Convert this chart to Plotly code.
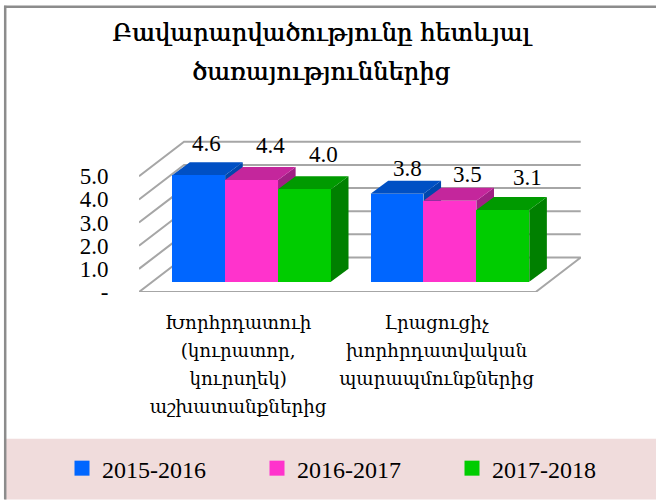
import plotly.graph_objects as go

# ---- data ----
categories = ["Խորհրդատուի<br>(կուրատոր,<br>կուրսղեկ)<br>աշխատանքներից",
              "Լրացուցիչ<br>խորհրդատվական<br>պարապմունքներից"]
series_names = ["2015-2016", "2016-2017", "2017-2018"]
values_2015 = [4.6, 3.8]
values_2016 = [4.4, 3.5]
values_2017 = [4.0, 3.1]
y_ticks = [0, 1, 2, 3, 4, 5]
y_tick_labels = ["-", "1.0", "2.0", "3.0", "4.0", "5.0"]
title_lines = ["Բավարարվածությունը հետևյալ", "ծառայություններից"]

# ---- style ----
front_colors = ["#0066FF", "#FF33CC", "#00CC00"]
top_colors = ["#0050C4", "#C4269C", "#009A00"]
side_colors = ["#0047AD", "#A02084", "#008000"]
GRID = "#A6A6A6"
ARM = "DejaVu Serif"
NUM = "Liberation Serif"

W, H = 656, 500
L, R, T, B = 139.0, 581.0, 129.6, 292.0  # plot area in px
x_range = [-0.5, -0.5 + (R - L) / 198.35]
y_range = [0, 7]
WALL_X, WALL_Y = 0.227, 1.49     # depth of floor
BAR_X, BAR_Y = 0.0676, 0.444     # position of the bars' front face in depth
DEPTH_X, DEPTH_Y = 0.0887, 0.56  # depth of a bar
BAR_W = 0.8 / 3

def px(x): return (x - L) / (R - L)
def py(y): return (B - y) / (B - T)

all_values = [values_2015, values_2016, values_2017]
fig = go.Figure()

# grid walls and floor
x_left = x_range[0]
x_front_right = x_left + 2
for k in y_ticks:
    if k == 0:
        xs = [x_front_right, x_left, x_left + WALL_X, x_front_right + WALL_X, x_front_right]
        ys = [0, 0, WALL_Y, WALL_Y, 0]
    else:
        xs = [x_left, x_left + WALL_X, x_front_right + WALL_X]
        ys = [k, k + WALL_Y, k + WALL_Y]
    fig.add_trace(go.Scatter(x=xs, y=ys, mode="lines", line=dict(color=GRID, width=2),
                             showlegend=False, hoverinfo="skip", cliponaxis=False))

def poly(xs, ys, color):
    fig.add_trace(go.Scatter(x=xs, y=ys, mode="lines", fill="toself", fillcolor=color,
                             line=dict(width=0, color=color), showlegend=False,
                             hoverinfo="skip", cliponaxis=False))

# depth faces, all under the front faces
for g in range(len(categories)):
    for s, vals in enumerate(all_values):
        x0 = g + BAR_X + (s - 1.5) * BAR_W
        x1 = x0 + BAR_W
        y0 = BAR_Y
        y1 = BAR_Y + vals[g]
        poly([x1, x1 + DEPTH_X, x1 + DEPTH_X, x1, x1],
             [y0, y0 + DEPTH_Y, y1 + DEPTH_Y, y1, y0], side_colors[s])
        poly([x0, x0 + DEPTH_X, x1 + DEPTH_X, x1, x0],
             [y1, y1 + DEPTH_Y, y1 + DEPTH_Y, y1, y1], top_colors[s])

# front faces
for s, vals in enumerate(all_values):
    fig.add_trace(go.Bar(x=[g + BAR_X + (s - 1) * BAR_W for g in range(len(categories))],
                         y=vals, base=BAR_Y, width=BAR_W, marker=dict(color=front_colors[s], line=dict(width=0)),
                         xaxis="x2", yaxis="y2", showlegend=False, name=series_names[s]))

# legend entries
for s, name in enumerate(series_names):
    fig.add_trace(go.Scatter(x=[None], y=[None], mode="markers", name=name,
                             marker=dict(symbol="square", size=15, color=front_colors[s])))

# value labels (offset from the top of each bar)
label_dx = [[8, 10], [19, 18], [19, 25]]
label_dy = [[32, 25], [34, 26], [35, 32]]
ann = []
for s, vals in enumerate(all_values):
    for g, v in enumerate(vals):
        ann.append(dict(x=g + BAR_X + (s - 1) * BAR_W, y=BAR_Y + v, text=f"{v:.1f}", showarrow=False,
                        xref="x", yref="y", xanchor="center", yanchor="middle",
                        xshift=label_dx[s][g], yshift=label_dy[s][g],
                        font=dict(family=NUM, size=23, color="black")))

shapes = [
    dict(type="rect", xref="paper", yref="paper", x0=px(5), x1=px(656), y0=py(439), y1=py(500),
         fillcolor="#F0DCDC", line=dict(width=0), layer="below"),
    dict(type="line", xref="paper", yref="paper", x0=px(4), x1=px(656), y0=py(6), y1=py(6),
         line=dict(color="#8C8C8C", width=2.5), layer="below"),
    dict(type="line", xref="paper", yref="paper", x0=px(5.2), x1=px(5.2), y0=py(5), y1=py(500),
         line=dict(color="#8C8C8C", width=2.5), layer="below"),
]

def sized(text, size):
    open_tag = f'<span style="font-size:{size}px">'
    return open_tag + text.replace("<br>", "</span><br>" + open_tag) + "</span>"

cat_ticks = [sized(c, 18.3) for c in categories]

fig.update_layout(
    width=W, height=H, autosize=False,
    paper_bgcolor="white", plot_bgcolor="rgba(0,0,0,0)",
    margin=dict(l=L, r=W - R, t=T, b=H - B, pad=0, autoexpand=False),
    barmode="overlay", bargap=0,
    title=dict(text=sized("<br>".join(title_lines), 24.2), x=321 / W, xanchor="center", xref="container",
               y=1 - 41 / H, yanchor="middle", yref="container",
               font=dict(family=ARM, size=30, color="black", shadow="0.6px 0 0 black")),
    xaxis=dict(range=x_range, tickmode="array", tickvals=[0, 1], ticktext=cat_ticks,
               showgrid=False, zeroline=False, showline=False, ticks="outside", ticklen=10,
               tickcolor="rgba(0,0,0,0)", tickfont=dict(family=ARM, size=21.5, color="black"), tickangle=0),
    yaxis=dict(range=y_range, tickmode="array", tickvals=y_ticks, ticktext=y_tick_labels,
               showgrid=False, zeroline=False, showline=False, ticks="outside", ticklen=25,
               tickcolor="rgba(0,0,0,0)", tickfont=dict(family=NUM, size=23, color="black")),
    xaxis2=dict(range=x_range, overlaying="x", visible=False),
    yaxis2=dict(range=y_range, overlaying="y", visible=False),
    legend=dict(orientation="h", xref="paper", yref="paper", x=px(62), y=py(469),
                xanchor="left", yanchor="middle", entrywidth=150, entrywidthmode="pixels",
                itemsizing="trace", bgcolor="rgba(0,0,0,0)",
                font=dict(family=NUM, size=24, color="black")),
    shapes=shapes, annotations=ann, showlegend=True,
)

fig.write_html("out.html", config={"displayModeBar": False},
               post_script="document.body.style.margin='0';document.body.style.overflow='hidden';")
